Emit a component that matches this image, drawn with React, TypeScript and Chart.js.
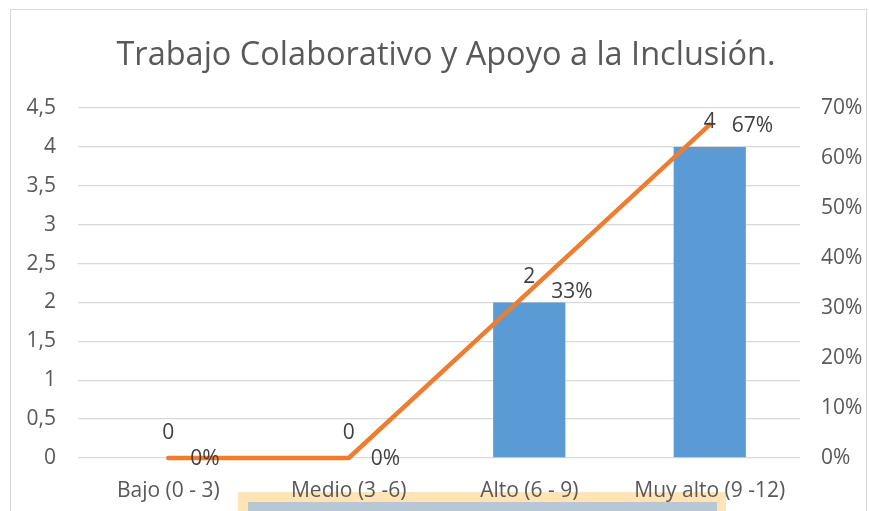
import React, { useEffect, useRef } from "react";
import { Chart, registerables } from "chart.js";

Chart.register(...registerables);

const TITLE = "Trabajo Colaborativo y Apoyo a la Inclusión.";
const categories = ["Bajo (0 - 3)", "Medio (3 -6)", "Alto (6 - 9)", "Muy alto (9 -12)"];
const counts = [0, 0, 2, 4];
const shares = [0, 0, 0.3333, 0.6667];
const leftTicks = [0, 0.5, 1, 1.5, 2, 2.5, 3, 3.5, 4, 4.5];
const rightTicks = [0, 0.1, 0.2, 0.3, 0.4, 0.5, 0.6, 0.7];

const FONT = "'Open Sans', sans-serif";
const TICK_COLOR = "#595959";
const LABEL_COLOR = "#404040";

const labelPlugin = {
  id: "customLabels",
  afterDatasetsDraw(chart: any) {
    const ctx = chart.ctx;
    ctx.save();
    ctx.font = `21px ${FONT}`;
    ctx.fillStyle = LABEL_COLOR;
    const barMeta = chart.getDatasetMeta(1);
    barMeta.data.forEach((el: any, i: number) => {
      ctx.textAlign = "center";
      ctx.textBaseline = "middle";
      ctx.fillText(String(counts[i]), el.x, el.y - 25);
    });
    const lineMeta = chart.getDatasetMeta(0);
    lineMeta.data.forEach((el: any, i: number) => {
      ctx.textAlign = "left";
      ctx.textBaseline = "middle";
      ctx.fillText(Math.round(shares[i] * 100) + "%", el.x + 22, el.y + 1);
    });
    ctx.restore();
  },
  afterDraw(chart: any) {
    const ctx = chart.ctx;
    ctx.save();
    ctx.font = `32.5px ${FONT}`;
    ctx.fillStyle = TICK_COLOR;
    ctx.textAlign = "center";
    ctx.textBaseline = "middle";
    ctx.fillText(TITLE, 446, 56);
    ctx.restore();
  },
};

export default function App() {
  const ref = useRef<HTMLCanvasElement>(null);
  useEffect(() => {
    if (!ref.current) return;
    const chart = new Chart(ref.current, {
      type: "bar",
      data: {
        labels: categories,
        datasets: [
          {
            type: "line",
            label: "Porcentaje",
            data: shares,
            yAxisID: "y1",
            borderColor: "#ED7D31",
            backgroundColor: "#ED7D31",
            borderWidth: 4.5,
            pointRadius: 0,
            tension: 0,
            borderCapStyle: "round",
            borderJoinStyle: "round",
            clip: false,
            order: 0,
          } as any,
          {
            type: "bar",
            label: "Frecuencia",
            data: counts,
            yAxisID: "y",
            backgroundColor: "#5B9BD5",
            barPercentage: 0.4,
            categoryPercentage: 1,
            order: 1,
          },
        ],
      },
      plugins: [labelPlugin],
      options: {
        animation: false,
        responsive: false,
        maintainAspectRatio: false,
        layout: { padding: { top: 108, bottom: 0, left: 0, right: 0 } },
        plugins: {
          legend: { display: false },
          title: { display: false },
          tooltip: { enabled: false },
        },
        scales: {
          x: {
            grid: { display: false, drawTicks: false },
            border: { display: false },
            ticks: {
              color: TICK_COLOR,
              font: { family: FONT, size: 21 },
              padding: 20,
              maxRotation: 0,
              autoSkip: false,
            },
            afterFit: (s: any) => {
              s.height = 53;
            },
          },
          y: {
            position: "left",
            min: 0,
            max: 4.5,
            afterBuildTicks: (s: any) => {
              s.ticks = leftTicks.map((v) => ({ value: v }));
            },
            grid: { color: "#d9d9d9", lineWidth: 1.3, drawTicks: false },
            border: { display: false },
            ticks: {
              color: TICK_COLOR,
              font: { family: FONT, size: 21 },
              padding: 22,
              callback: (v: any) => String(v).replace(".", ","),
            },
            afterFit: (s: any) => {
              s.width = 78;
            },
          },
          y1: {
            position: "right",
            min: 0,
            max: 0.7,
            afterBuildTicks: (s: any) => {
              s.ticks = rightTicks.map((v) => ({ value: v }));
            },
            grid: { display: false, drawTicks: false },
            border: { display: false },
            ticks: {
              color: TICK_COLOR,
              font: { family: FONT, size: 21 },
              padding: 21,
              callback: (v: any) => Math.round(Number(v) * 100) + "%",
            },
            afterFit: (s: any) => {
              s.width = 69;
            },
          },
        },
      },
    });
    return () => chart.destroy();
  }, []);

  return (
    <div
      style={{
        position: "fixed",
        left: 0,
        top: 0,
        width: 869,
        height: 511,
        overflow: "hidden",
        background: "#ffffff",
      }}
    >
      <div
        style={{
          position: "absolute",
          left: 10,
          top: 9,
          width: 857,
          height: 560,
          border: "1px solid #d9d9d9",
          boxSizing: "border-box",
        }}
      />
      <div
        style={{
          position: "absolute",
          left: 238,
          top: 492,
          width: 488,
          height: 40,
          background: "#FFE4B8",
        }}
      />
      <div
        style={{
          position: "absolute",
          left: 248,
          top: 502,
          width: 469,
          height: 30,
          background: "#B6C8D6",
        }}
      />
      <canvas
        ref={ref}
        width={869}
        height={511}
        style={{ position: "absolute", left: 0, top: 0, width: 869, height: 511 }}
      />
    </div>
  );
}
